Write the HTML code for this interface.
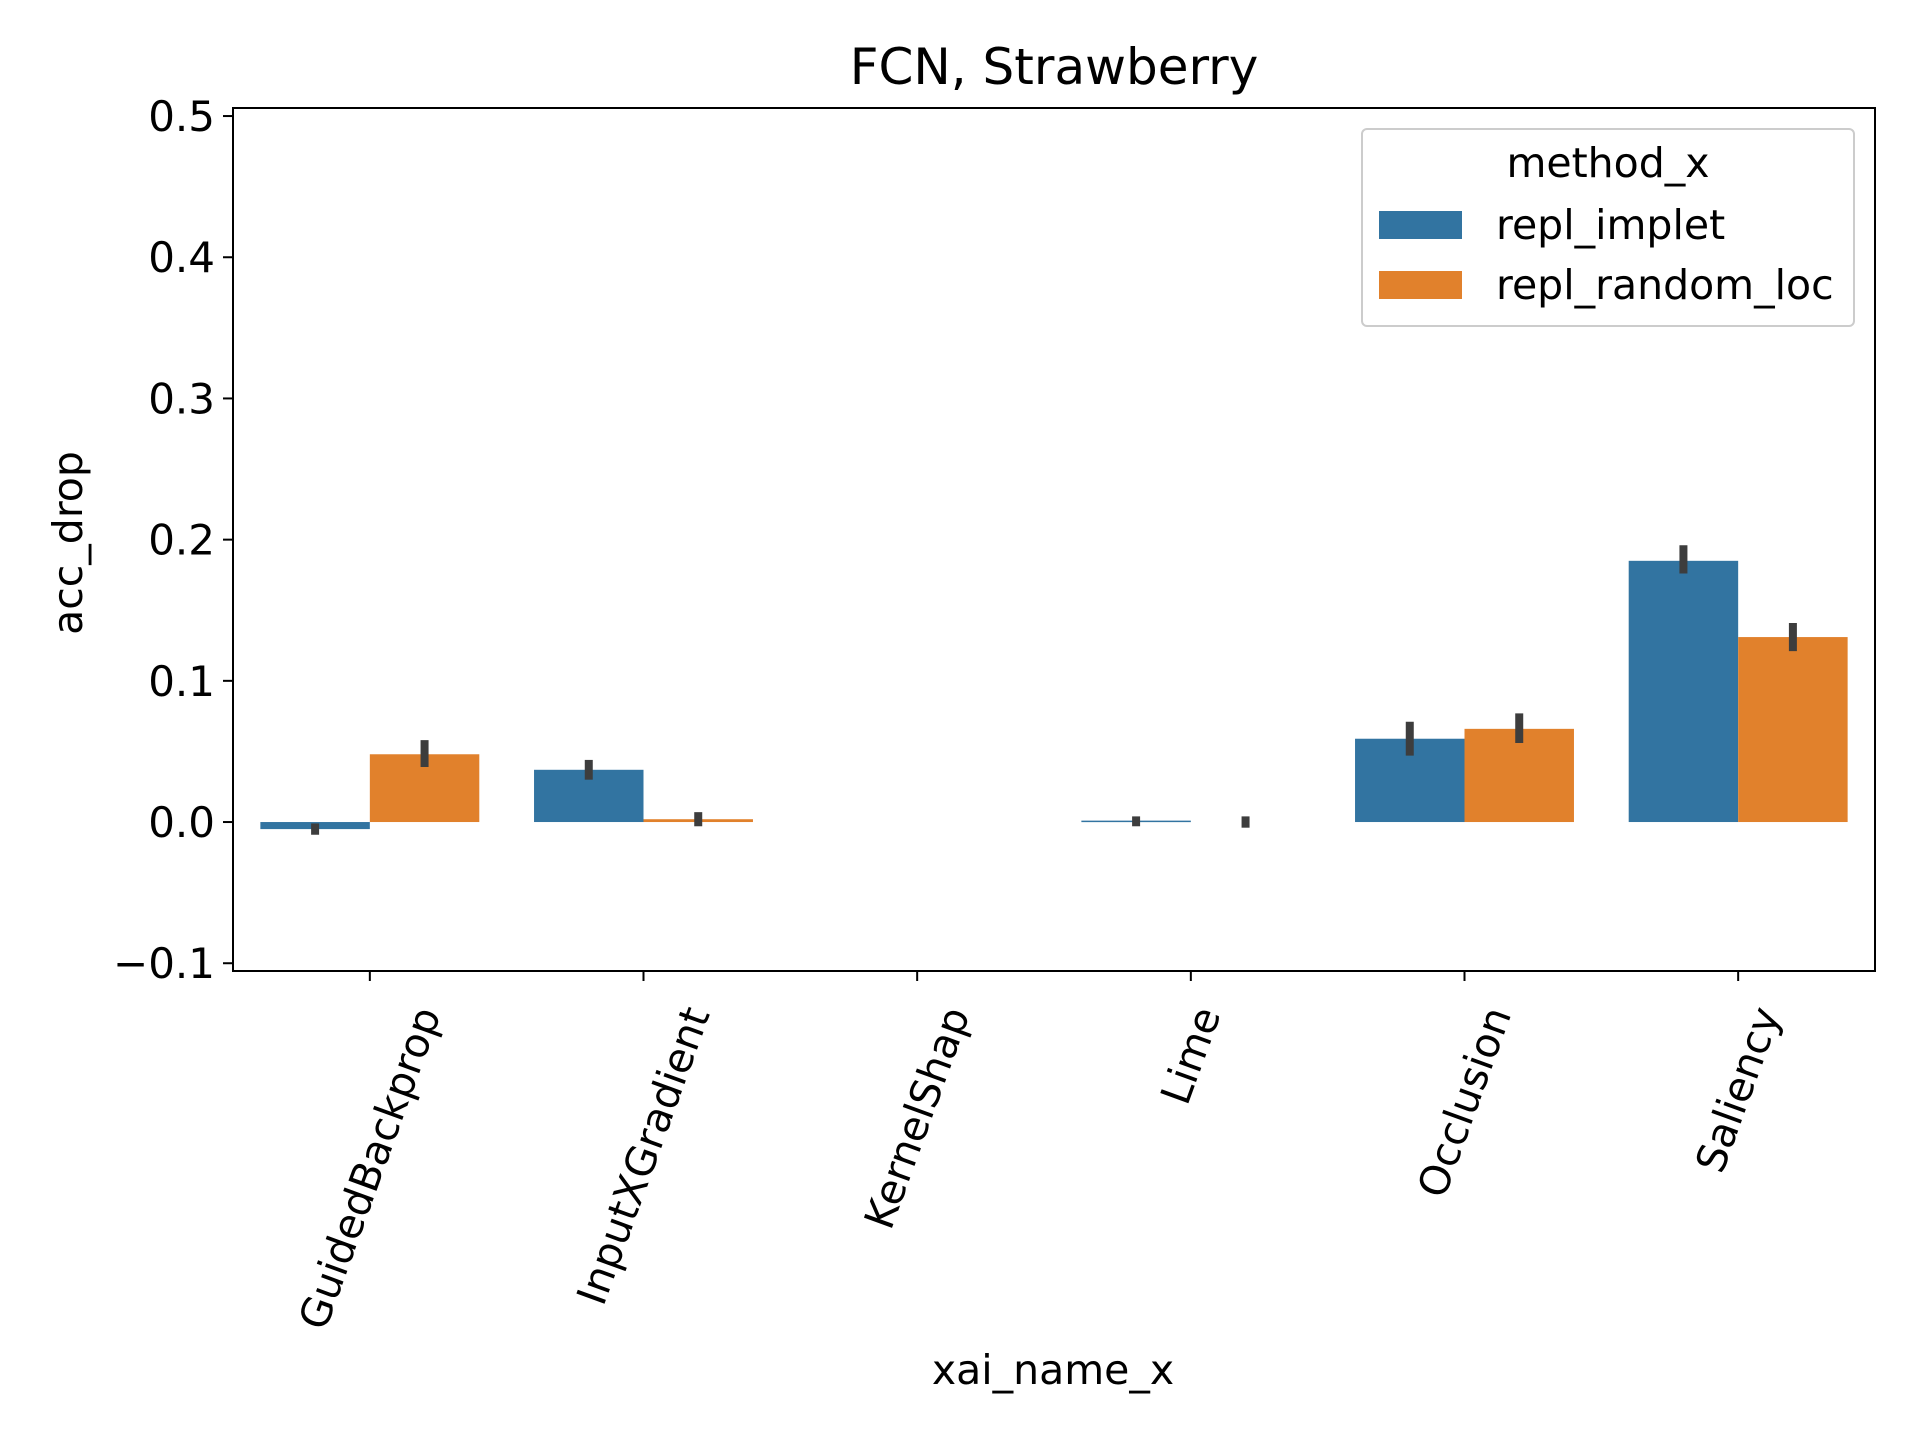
<!DOCTYPE html>
<html><head><meta charset="utf-8"><style>
html,body{margin:0;padding:0;background:#fff;}
svg{display:block;}
text{font-family:"DejaVu Sans","Liberation Sans",sans-serif;fill:#000;}
</style></head><body>
<svg id="chart" width="1920" height="1440" viewBox="0 0 1920 1440" xmlns="http://www.w3.org/2000/svg">
<rect x="0" y="0" width="1920" height="1440" fill="#fff"/>
<text x="1054" y="84" font-size="50" text-anchor="middle">FCN, Strawberry</text>
<g id="plot"></g>
<text x="0" y="0" font-size="41" text-anchor="middle" transform="translate(82,543) rotate(-90)">acc_drop</text>
<text x="1053" y="1384" font-size="41" text-anchor="middle">xai_name_x</text>
<g>
<rect x="1362" y="129" width="492" height="197" rx="5" fill="#fff" stroke="#cccccc" stroke-width="2"/>
<text x="1608" y="177" font-size="41" text-anchor="middle">method_x</text>
<rect x="1379" y="211" width="83" height="28" fill="#3274a1"/>
<text x="1496" y="239" font-size="41">repl_implet</text>
<rect x="1379" y="271" width="83" height="28" fill="#e1812c"/>
<text x="1496" y="299" font-size="41">repl_random_loc</text>
</g>
</svg>
<script>
const categories = ["GuidedBackprop","InputXGradient","KernelShap","Lime","Occlusion","Saliency"];
const implet = [-0.005, 0.037, null, 0.001, 0.059, 0.185];
const impletLo = [-0.009, 0.030, null, -0.003, 0.047, 0.176];
const impletHi = [-0.001, 0.044, null, 0.004, 0.071, 0.196];
const randomLoc = [0.048, 0.002, null, 0.0, 0.066, 0.131];
const randomLo = [0.039, -0.003, null, -0.004, 0.056, 0.121];
const randomHi = [0.058, 0.007, null, 0.004, 0.077, 0.141];
const yTicks = [-0.1, 0.0, 0.1, 0.2, 0.3, 0.4, 0.5];
const yTickLabels = ["\u22120.1","0.0","0.1","0.2","0.3","0.4","0.5"];

const L=233,R=1875,T=108,B=971;
const yMin=-0.1055,yMax=0.5057;
function y(v){return B-(v-yMin)/(yMax-yMin)*(B-T);}
const step=(R-L)/categories.length;
function xc(i){return L+step*(i+0.5);}
const bw=step*0.8/2;
const NS="http://www.w3.org/2000/svg";
const g=document.getElementById('plot');
function el(t,a){const e=document.createElementNS(NS,t);for(const k in a)e.setAttribute(k,a[k]);g.appendChild(e);return e;}
const series=[[implet,impletLo,impletHi,"#3274a1","repl-implet",-1],[randomLoc,randomLo,randomHi,"#e1812c","repl-random-loc",0]];
series.forEach(s=>{
  categories.forEach((c,i)=>{
    const v=s[0][i]; if(v===null) return;
    const x0=xc(i)+s[5]*bw;
    const y0=y(0),y1=y(v);
    const h=v===0?0:Math.max(Math.abs(y0-y1),1.5);
    const r=el('rect',{x:x0,y:Math.min(y0,y1),width:bw,height:h,fill:s[3]});
    
    
    const e=el('line',{x1:x0+bw/2,x2:x0+bw/2,y1:y(s[1][i]),y2:y(s[2][i]),stroke:"#3d3d3d","stroke-width":8});
    
    
  });
});
yTicks.forEach((v,i)=>{
  const t=el('line',{x1:L-10,x2:L,y1:y(v),y2:y(v),stroke:"#000","stroke-width":2});
  
  
  const tx=el('text',{x:L-18,y:y(v)+15,"font-size":42,"text-anchor":"end"});
  tx.textContent=yTickLabels[i];
  
  
});
const s70=Math.sin(70*Math.PI/180),c70=Math.cos(70*Math.PI/180);
categories.forEach((c,i)=>{
  const t=el('line',{x1:xc(i),x2:xc(i),y1:B,y2:B+10,stroke:"#000","stroke-width":2});
  
  
  const tx=el('text',{x:0,y:0,"font-size":41,"text-anchor":"middle","dominant-baseline":"central"});
  tx.textContent=c;
  
  
  const len=tx.getComputedTextLength();
  const cy=B+31+(len*s70+40*c70)/2;
  tx.setAttribute('transform',`translate(${xc(i)},${cy}) rotate(-70)`);
});
const fr=el('rect',{x:L,y:T,width:R-L,height:B-T,fill:"none",stroke:"#000","stroke-width":2});


</script>
</body></html>
